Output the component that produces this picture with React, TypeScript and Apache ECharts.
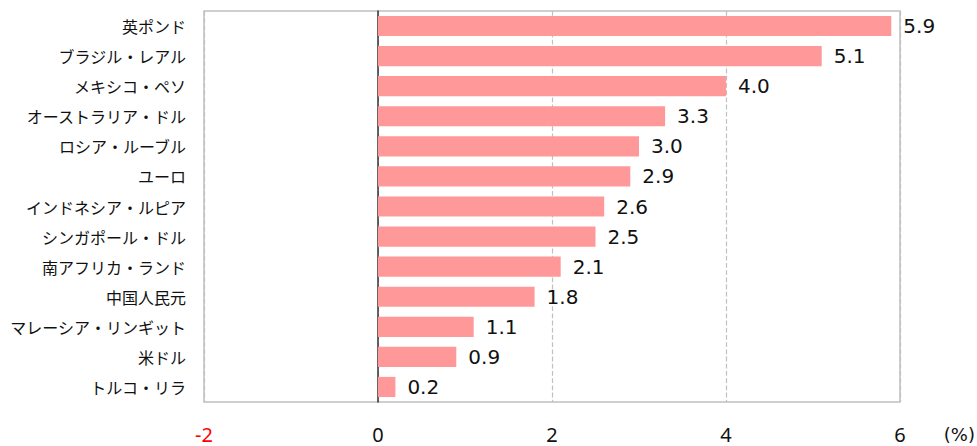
import React, { useEffect, useRef } from "react";
import * as echarts from "echarts";

const categories = [
  "英ポンド",
  "ブラジル・レアル",
  "メキシコ・ペソ",
  "オーストラリア・ドル",
  "ロシア・ルーブル",
  "ユーロ",
  "インドネシア・ルピア",
  "シンガポール・ドル",
  "南アフリカ・ランド",
  "中国人民元",
  "マレーシア・リンギット",
  "米ドル",
  "トルコ・リラ",
];
const values = [5.9, 5.1, 4.0, 3.3, 3.0, 2.9, 2.6, 2.5, 2.1, 1.8, 1.1, 0.9, 0.2];
const xMin = -2;
const xMax = 6;
const xStep = 2;
const unitLabel = "(%)";

export default function App() {
  const ref = useRef<HTMLDivElement>(null);
  useEffect(() => {
    if (!ref.current) return;
    const chart = echarts.init(ref.current, undefined, { renderer: "svg" });
    chart.setOption({
      animation: false,
      grid: {
        left: 204,
        right: 77,
        top: 11,
        bottom: 44,
        show: true,
        borderColor: "#c0c0c0",
        borderWidth: 1.5,
        containLabel: false,
      },
      xAxis: {
        type: "value",
        min: xMin,
        max: xMax,
        interval: xStep,
        axisLine: { show: false },
        axisTick: { show: false },
        splitLine: { show: true, lineStyle: { color: "#c0c0c0", type: "dashed", width: 1.2 } },
        axisLabel: {
          margin: 22,
          fontSize: 20,
          fontFamily: "Noto Sans",
          color: "#111111",
          formatter: (v: number) => (v < 0 ? `{r|${v}}` : `${v}`),
          rich: { r: { color: "#ff0000", fontSize: 20, fontFamily: "Noto Sans" } },
        },
      },
      yAxis: {
        type: "category",
        data: categories,
        inverse: true,
        axisLine: { show: true, onZero: true, lineStyle: { color: "#333333", width: 1.5 } },
        axisTick: { show: false },
        axisLabel: {
          margin: 18,
          fontSize: 16,
          fontFamily: "Noto Sans CJK JP",
          color: "#111111",
        },
      },
      series: [
        {
          type: "bar",
          data: values,
          barCategoryGap: "33%",
          itemStyle: { color: "#ff9999" },
          label: {
            show: true,
            position: "right",
            distance: 12,
            fontSize: 20,
            fontFamily: "DejaVu Sans",
            color: "#111111",
            formatter: (p: any) => Number(p.value).toFixed(1),
          },
        },
      ],
      graphic: [
        {
          type: "text",
          right: 2,
          top: 425,
          style: { text: unitLabel, fontSize: 18, fontFamily: "DejaVu Sans", fill: "#111111" },
        },
      ],
    });
    return () => chart.dispose();
  }, []);
  return (
    <div
      ref={ref}
      style={{ position: "fixed", left: 0, top: 0, width: 977, height: 446, background: "#fff" }}
    />
  );
}
